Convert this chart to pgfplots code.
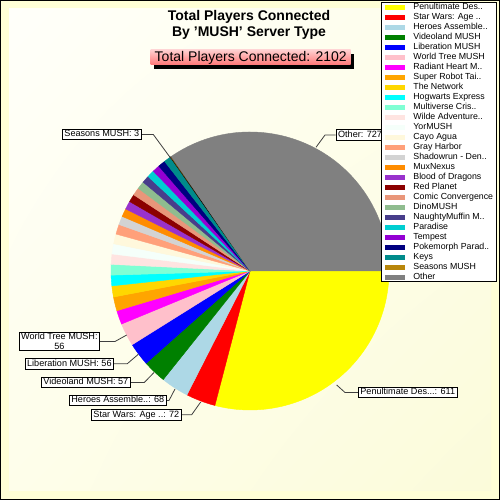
\documentclass[border=0pt]{standalone}
\usepackage{pgfplots}
\pgfplotsset{compat=1.18}
\usepackage{pgfplotstable}
\usepackage{fontspec}
\setmainfont{Liberation Sans}
\usetikzlibrary{shadings}

\definecolor{cPen}{HTML}{FFFF00}
\definecolor{cStar}{HTML}{FF0000}
\definecolor{cHero}{HTML}{ADD8E6}
\definecolor{cVideo}{HTML}{008000}
\definecolor{cLib}{HTML}{0000FF}
\definecolor{cWorld}{HTML}{FFC0CB}
\definecolor{cRad}{HTML}{FF00FF}
\definecolor{cSuper}{HTML}{FFA500}
\definecolor{cNet}{HTML}{FFD700}
\definecolor{cHog}{HTML}{00FFFF}
\definecolor{cMulti}{HTML}{7FFFD4}
\definecolor{cWilde}{HTML}{FFE4E1}
\definecolor{cYor}{HTML}{F5FFFA}
\definecolor{cCayo}{HTML}{FFF8DC}
\definecolor{cGray}{HTML}{FFA07A}
\definecolor{cShadow}{HTML}{D3D3D3}
\definecolor{cMux}{HTML}{FF8C00}
\definecolor{cBlood}{HTML}{9932CC}
\definecolor{cRed}{HTML}{8B0000}
\definecolor{cComic}{HTML}{E9967A}
\definecolor{cDino}{HTML}{8FBC8F}
\definecolor{cNaughty}{HTML}{483D8B}
\definecolor{cPara}{HTML}{00CED1}
\definecolor{cTemp}{HTML}{9400D3}
\definecolor{cPoke}{HTML}{000080}
\definecolor{cKeys}{HTML}{008B8B}
\definecolor{cSeasons}{HTML}{B8860B}
\definecolor{cOther}{HTML}{808080}
\definecolor{bgA}{HTML}{FFFFFA}
\definecolor{bgB}{HTML}{FEFEEA}
\definecolor{bgC}{HTML}{FBFBDA}
\definecolor{bandC}{HTML}{FFFFD6}
\definecolor{boxTop}{HTML}{FFCFCF}
\definecolor{boxBot}{HTML}{FF7A7A}

\pgfplotstableread[col sep=comma]{
value,fillc,linec
611,cPen,cPen
72,cStar,cStar
68,cHero,cHero
57,cVideo,cVideo
56,cLib,cLib
56,cWorld,cWorld
34,cRad,cRad
34,cSuper,cSuper
27,cNet,cNet
26,cHog,cHog
26,cMulti,cMulti
25,cWilde,cWilde
25,cYor,cYor
24,cCayo,cCayo
24,cGray,cGray
21,cShadow,cShadow
20,cMux,cMux
20,cBlood,cBlood
19,cRed,cRed
19,cComic,cComic
19,cDino,cDino
18,cNaughty,cNaughty
18,cPara,cPara
18,cTemp,cTemp
18,cPoke,cPoke
17,cKeys,cKeys
3,cSeasons,black
727,cOther,cOther
}\pietable

\tikzset{
  lbl/.style={draw=black, fill=white, line width=0.8pt, inner xsep=2pt, inner ysep=1.2pt,
    font=\fontsize{9.1pt}{10pt}\selectfont, text height=6.5pt, text depth=1.8pt},
  callout/.style={draw=black!75, line width=0.8pt}
}

\begin{document}
\begin{tikzpicture}[x=1pt,y=1pt]
% background
\fill[black] (0,0) rectangle (500,500);
\fill[bandC] (1,1) rectangle (499,499);
\shade[upper left=bgA, upper right=bgB, lower left=bgB, lower right=bgC] (9,9) rectangle (491,491);

\begin{axis}[
  x=1pt, y=1pt, xmin=-139, xmax=139, ymin=-139, ymax=139,
  hide axis, clip=false, at={(250pt,229pt)}, anchor=center,
  legend image code/.code={\fill[draw=none,#1] (0pt,-2.5pt) rectangle (20pt,2.5pt);},
  legend cell align=left,
  legend style={at={(axis description cs:1.38849,1.46763)}, anchor=north east,
    draw=black, fill=white, line width=0.8pt,
    font=\fontsize{8.8pt}{10pt}\selectfont,
    inner xsep=3.5pt, inner ysep=0.5pt, row sep=1.5pt, column sep=8.5pt,
    nodes={inner sep=0pt, text height=6.5pt, text depth=2pt}},
]
\pgfplotstablegetrowsof{\pietable}
\pgfmathtruncatemacro{\nrows}{\pgfplotsretval-1}
\def\cum{0}
\pgfplotsforeachungrouped \i in {0,...,\nrows}{%
  \pgfplotstablegetelem{\i}{value}\of\pietable \let\sval\pgfplotsretval
  \pgfplotstablegetelem{\i}{fillc}\of\pietable \let\sfill\pgfplotsretval
  \pgfplotstablegetelem{\i}{linec}\of\pietable \let\sline\pgfplotsretval
  \pgfmathsetmacro{\sa}{-\cum/2102*360}
  \pgfmathsetmacro{\sb}{-(\cum+\sval)/2102*360}
  \pgfmathsetmacro{\xa}{139*cos(\sa)}
  \pgfmathsetmacro{\ya}{139*sin(\sa)}
  \edef\tmp{\noexpand\path[fill=\sfill, draw=\sline, line width=0.4pt] (axis cs:0,0) -- (axis cs:\xa,\ya) arc[start angle=\sa, end angle=\sb, radius=139pt] -- cycle;}%
  \tmp
  \pgfmathsetmacro{\cum}{\cum+\sval}%
}

% callouts
\draw[callout] (axis cs:66,123.7) -- (axis cs:75,136) -- (axis cs:85.7,136);
\node[lbl, anchor=west] at (axis cs:85.7,136) {Other: 727};
\draw[callout] (axis cs:-78,111) -- (axis cs:-96.7,136.5) -- (axis cs:-108.3,136.5);
\node[lbl, anchor=east] at (axis cs:-108.3,136.5) {Seasons MUSH: 3};
\draw[callout] (axis cs:86.7,-114) -- (axis cs:95,-121.5) -- (axis cs:108,-121.5);
\node[lbl, anchor=west] at (axis cs:108,-121.5) {Penultimate Des...: 611};
\draw[callout] (axis cs:-49.3,-131) -- (axis cs:-58.3,-143.7) -- (axis cs:-68.3,-143.7);
\node[lbl, anchor=east] at (axis cs:-68.3,-143.7) {Star Wars: Age ..: 72};
\draw[callout] (axis cs:-75,-118) -- (axis cs:-81,-129.5) -- (axis cs:-83.3,-129.5);
\node[lbl, anchor=east] at (axis cs:-83.3,-129.5) {Heroes Assemble..: 68};
\draw[callout] (axis cs:-96,-101.5) -- (axis cs:-105.7,-111.5) -- (axis cs:-119.3,-111.5);
\node[lbl, anchor=east] at (axis cs:-119.3,-111.5) {Videoland MUSH: 57};
\draw[callout] (axis cs:-111.7,-83.3) -- (axis cs:-122.7,-92.7) -- (axis cs:-136,-92.7);
\node[lbl, anchor=east] at (axis cs:-136,-92.7) {Liberation MUSH: 56};
\draw[callout] (axis cs:-123.3,-64) -- (axis cs:-135,-70.5) -- (axis cs:-150,-70.5);
\node[lbl, anchor=east, align=center, text height=, text depth=, inner ysep=1pt] at (axis cs:-150,-70.5) {World Tree MUSH:\\56};

% legend
\addlegendimage{fill=cPen}
\addlegendimage{fill=cStar}
\addlegendimage{fill=cHero}
\addlegendimage{fill=cVideo}
\addlegendimage{fill=cLib}
\addlegendimage{fill=cWorld}
\addlegendimage{fill=cRad}
\addlegendimage{fill=cSuper}
\addlegendimage{fill=cNet}
\addlegendimage{fill=cHog}
\addlegendimage{fill=cMulti}
\addlegendimage{fill=cWilde}
\addlegendimage{fill=cYor}
\addlegendimage{fill=cCayo}
\addlegendimage{fill=cGray}
\addlegendimage{fill=cShadow}
\addlegendimage{fill=cMux}
\addlegendimage{fill=cBlood}
\addlegendimage{fill=cRed}
\addlegendimage{fill=cComic}
\addlegendimage{fill=cDino}
\addlegendimage{fill=cNaughty}
\addlegendimage{fill=cPara}
\addlegendimage{fill=cTemp}
\addlegendimage{fill=cPoke}
\addlegendimage{fill=cKeys}
\addlegendimage{fill=cSeasons, draw=black, line width=0.8pt}
\addlegendimage{fill=cOther}
\legend{Penultimate Des.., Star Wars: Age .., Heroes Assemble.., Videoland MUSH, Liberation MUSH, World Tree MUSH, Radiant Heart M.., Super Robot Tai.., The Network, Hogwarts Express, Multiverse Cris.., Wilde Adventure.., YorMUSH, Cayo Agua, Gray Harbor, Shadowrun - Den.., MuxNexus, Blood of Dragons, Red Planet, Comic Convergence, DinoMUSH, NaughtyMuffin M.., Paradise, Tempest, Pokemorph Parad.., Keys, Seasons MUSH, Other}
\end{axis}

% titles
\node[anchor=base, font=\fontsize{14pt}{16pt}\selectfont\bfseries] at (249,479) {Total Players Connected};
\node[anchor=base, font=\fontsize{14pt}{16pt}\selectfont\bfseries] at (249,463.3) {By 'MUSH' Server Type};
\fill[black] (153.7,431.2) rectangle (353.7,445.5);
\shade[top color=boxTop, bottom color=boxBot] (150.7,435.7) rectangle (350.7,450);
\node[anchor=base, font=\fontsize{14pt}{16pt}\selectfont, inner sep=0pt] at (250.7,438) {Total Players Connected: 2102};

\pgfresetboundingbox
\useasboundingbox (0,0) rectangle (500,500);
\end{tikzpicture}
\end{document}
